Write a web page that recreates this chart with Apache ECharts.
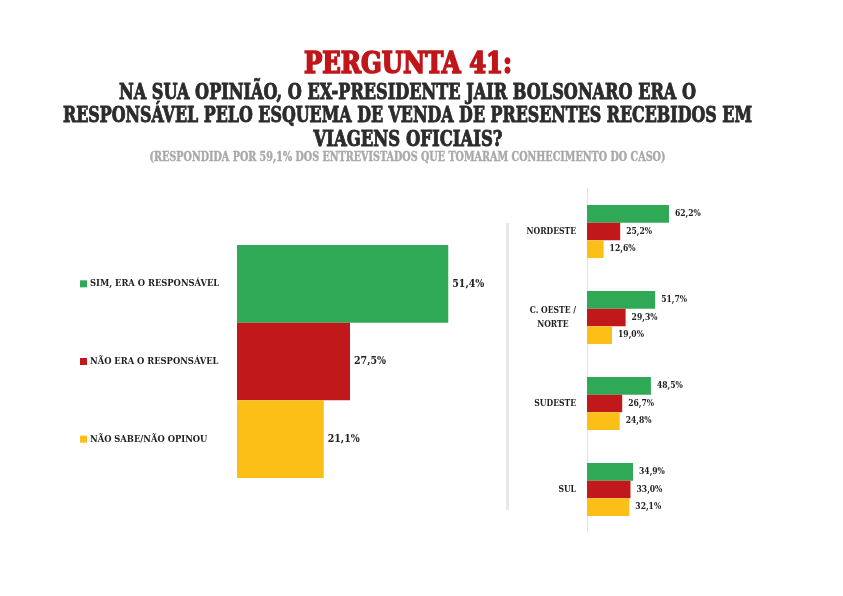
<!DOCTYPE html>
<html>
<head>
<meta charset="utf-8">
<script src="https://cdn.jsdelivr.net/npm/echarts@6/dist/echarts.min.js"></script>
<style>html,body{margin:0;padding:0;background:#fff;}#c{width:843px;height:596px;}</style>
</head>
<body>
<div id="c"></div>
<script>
// ---- data ----
var totalCategories = ['SIM, ERA O RESPONSÁVEL', 'NÃO ERA O RESPONSÁVEL', 'NÃO SABE/NÃO OPINOU'];
var totalValues = [51.4, 27.5, 21.1];
var regions = ['NORDESTE', 'C. OESTE /\nNORTE', 'SUDESTE', 'SUL'];
var simValues = [62.2, 51.7, 48.5, 34.9];
var naoValues = [25.2, 29.3, 26.7, 33.0];
var nsValues = [12.6, 19.0, 24.8, 32.1];
var titleText = 'PERGUNTA 41:';
var subtitleLines = [
  'NA SUA OPINIÃO, O EX-PRESIDENTE JAIR BOLSONARO ERA O',
  'RESPONSÁVEL PELO ESQUEMA DE VENDA DE PRESENTES RECEBIDOS EM',
  'VIAGENS OFICIAIS?'
];
var noteText = '(RESPONDIDA POR 59,1% DOS ENTREVISTADOS QUE TOMARAM CONHECIMENTO DO CASO)';

// ---- styles ----
var FONT = '"DejaVu Serif Condensed", "DejaVu Serif", serif';
var GREEN = '#2fa955', RED = '#c1191b', YELLOW = '#fbbf18';
var COLORS = [GREEN, RED, YELLOW];

function fitScale(text, size, target) {
  var ctx = document.createElement('canvas').getContext('2d');
  ctx.font = 'bold ' + size + 'px ' + FONT;
  return target / ctx.measureText(text).width;
}
function headText(text, size, color, cx, cy, width, stroke) {
  return {
    type: 'text', x: cx, y: cy, scaleX: fitScale(text, size, width), silent: true,
    style: { text: text, fill: color, stroke: stroke ? color : null, lineWidth: stroke || 0,
      font: 'bold ' + size + 'px ' + FONT, align: 'center', verticalAlign: 'middle' }
  };
}
function fmt(v) { return v.toFixed(1).replace('.', ',') + '%'; }

var chart = echarts.init(document.getElementById('c'));

var rich = { t: { fontFamily: FONT, fontWeight: 'bold', fontSize: 9.3, color: '#222', padding: [0, 0, 0, 3] } };
COLORS.forEach(function (c, i) { rich['s' + i] = { width: 7, height: 7, backgroundColor: c }; });

var option = {
  backgroundColor: '#fff',
  animation: false,
  graphic: [
    headText(titleText, 30, '#c0161a', 408, 65.5, 208, 1.6),
    headText(subtitleLines[0], 22, '#2b2b2b', 407.5, 93, 577, 0.9),
    headText(subtitleLines[1], 22, '#2b2b2b', 407.5, 116, 689, 0.9),
    headText(subtitleLines[2], 22, '#2b2b2b', 408, 140, 189, 0.9),
    headText(noteText, 12.5, '#a9a9a9', 407.5, 157.5, 516, 0.4),
    { type: 'rect', silent: true, shape: { x: 506, y: 223, width: 3, height: 287 }, style: { fill: '#e8e8e8' } }
  ],
  grid: [
    { left: 237, top: 245, width: 411, height: 233 },
    { left: 587, top: 188.5, width: 131.8, height: 344 }
  ],
  xAxis: [
    { gridIndex: 0, type: 'value', min: 0, max: 100, show: false },
    { gridIndex: 1, type: 'value', min: 0, max: 100, show: false }
  ],
  yAxis: [
    {
      gridIndex: 0, type: 'category', data: totalCategories, inverse: true,
      axisLine: { show: false }, axisTick: { show: false },
      axisLabel: {
        align: 'left', margin: 157,
        formatter: function (v, i) { return '{s' + i + '|}{t|' + v + '}'; },
        rich: rich
      }
    },
    {
      gridIndex: 1, type: 'category', data: regions, inverse: true,
      axisLine: { show: true, lineStyle: { color: '#e2e2e2', width: 1 } }, axisTick: { show: false },
      axisLabel: {
        align: 'right', margin: 11,
        formatter: function (v) { return v.split('\n').map(function (l) { return '{c|' + l + '}'; }).join('\n'); },
        rich: { c: { align: 'center', fontFamily: FONT, fontWeight: 'bold', fontSize: 8.5, color: '#222', lineHeight: 14 } }
      }
    }
  ],
  series: [
    {
      type: 'bar', xAxisIndex: 0, yAxisIndex: 0, data: totalValues, barWidth: '100%',
      itemStyle: { color: function (p) { return COLORS[p.dataIndex]; } },
      label: { show: true, position: 'right', distance: 4, formatter: function (p) { return fmt(p.value); },
        fontFamily: FONT, fontWeight: 'bold', fontSize: 10.5, color: '#222' }
    }
  ].concat([simValues, naoValues, nsValues].map(function (vals, k) {
    return {
      type: 'bar', xAxisIndex: 1, yAxisIndex: 1, data: vals, barWidth: 17.7, barGap: '0%',
      itemStyle: { color: COLORS[k] },
      label: { show: true, position: 'right', distance: 6, formatter: function (p) { return fmt(p.value); },
        fontFamily: FONT, fontWeight: 'bold', fontSize: 8.5, color: '#222' }
    };
  }))
};
chart.setOption(option);
</script>
</body>
</html>
